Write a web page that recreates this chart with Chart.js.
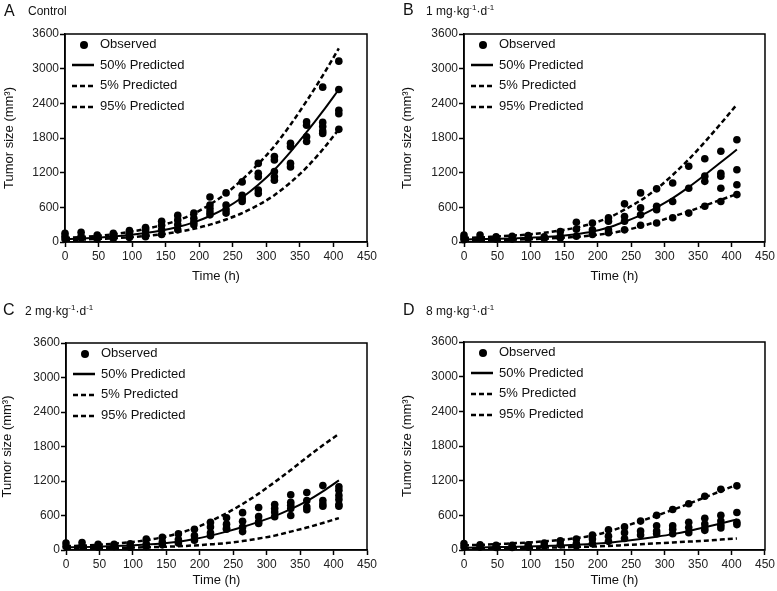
<!DOCTYPE html>
<html>
<head>
<meta charset="utf-8">
<script src="https://cdn.jsdelivr.net/npm/chart.js@4.4.0/dist/chart.umd.min.js"></script>
<style>
body { margin: 0; background: #fff; width: 777px; height: 591px; position: relative; overflow: hidden;
       font-family: "Liberation Sans", Arial, sans-serif; color: #111; }
.panel { position: absolute; }
.lab { position: absolute; white-space: nowrap; line-height: 1; }
.big { font-size: 16px; }
.sub { font-size: 12px; }
.sub sup { font-size: 8px; vertical-align: 5px; }
</style>
</head>
<body>
<div class="panel" style="left:0;top:0"><canvas id="chartA" width="390" height="295"></canvas></div>
<div class="panel" style="left:390px;top:0"><canvas id="chartB" width="387" height="295"></canvas></div>
<div class="panel" style="left:0;top:295px"><canvas id="chartC" width="390" height="296"></canvas></div>
<div class="panel" style="left:390px;top:295px"><canvas id="chartD" width="387" height="296"></canvas></div>

<div class="lab big" style="left:4px;top:3px">A</div>
<div class="lab sub" style="left:28px;top:5px">Control</div>
<div class="lab big" style="left:403px;top:2px">B</div>
<div class="lab sub" style="left:426px;top:4px">1 mg·kg<sup>-1</sup>·d<sup>-1</sup></div>
<div class="lab big" style="left:3px;top:302px">C</div>
<div class="lab sub" style="left:25px;top:304px">2 mg·kg<sup>-1</sup>·d<sup>-1</sup></div>
<div class="lab big" style="left:403px;top:302px">D</div>
<div class="lab sub" style="left:426px;top:304px">8 mg·kg<sup>-1</sup>·d<sup>-1</sup></div>

<script>
// sampling times (h)
var times = [0, 24, 48, 72, 96, 120, 144, 168, 192, 216, 240, 264, 288, 312, 336, 360, 384, 408];
var xTicks = [0, 450, 50];
var yTicks = [0, 3600, 600];

// Control
var obsA = [[150, 100, 50], [170, 100, 70], [120, 80, 50], [150, 95, 60], [200, 130, 80], [250, 200, 120, 90],
  [360, 290, 210, 130], [460, 380, 300, 210], [500, 410, 350, 300], [780, 640, 580, 520, 470], [850, 640, 560, 500],
  [1040, 810, 750, 700], [1360, 1190, 1130, 900, 840], [1480, 1420, 1220, 1130, 1070], [1710, 1650, 1360, 1300],
  [2080, 2020, 1820, 1740], [2680, 2070, 2000, 1920, 1880], [3130, 2640, 2280, 2220, 1950]];
var p50A = [50, 60, 75, 95, 120, 155, 200, 260, 340, 450, 590, 770, 990, 1250, 1560, 1900, 2260, 2640];
var p5A = [35, 42, 52, 65, 82, 105, 135, 175, 230, 300, 390, 500, 640, 810, 1030, 1290, 1600, 1950];
var p95A = [70, 85, 105, 135, 175, 225, 290, 375, 490, 650, 840, 1080, 1350, 1660, 2030, 2440, 2880, 3350];

// 1 mg/kg/d
var obsB = [[120, 80, 40], [120, 60], [90, 50], [100, 50], [110, 60], [90, 60], [180, 100, 70], [340, 220, 100],
  [330, 210, 130], [420, 360, 210, 160], [660, 440, 360, 210], [850, 590, 470, 290], [920, 620, 560, 330],
  [1020, 700, 420], [1310, 930, 500], [1440, 1140, 1050, 620], [1570, 1190, 1140, 930, 700], [1770, 1250, 990, 820]];
var p50B = [45, 50, 55, 62, 72, 85, 105, 135, 180, 250, 350, 460, 600, 760, 950, 1160, 1380, 1600];
var p5B = [30, 32, 35, 40, 48, 58, 72, 90, 115, 150, 200, 270, 350, 440, 530, 630, 730, 830];
var p95B = [70, 80, 95, 110, 130, 160, 200, 250, 320, 420, 560, 720, 920, 1160, 1430, 1730, 2050, 2380];

// 2 mg/kg/d
var obsC = [[120, 60], [130, 70], [100, 50], [100, 60], [110, 50], [190, 110, 60], [220, 140, 90], [280, 180, 120],
  [360, 250, 170], [480, 400, 300, 250], [560, 450, 380, 360], [650, 500, 400, 320], [740, 580, 490, 460],
  [790, 720, 660, 580], [960, 830, 780, 720, 600], [1000, 860, 750, 700], [1120, 860, 800, 760],
  [1100, 1040, 950, 880, 790, 760]];
var p50C = [45, 50, 58, 68, 80, 95, 115, 145, 190, 250, 320, 400, 490, 590, 710, 850, 1020, 1210];
var p5C = [30, 32, 35, 38, 42, 48, 55, 65, 80, 98, 120, 155, 200, 250, 320, 390, 470, 555];
var p95C = [65, 75, 90, 110, 135, 170, 220, 290, 380, 500, 640, 800, 980, 1180, 1390, 1610, 1820, 2020];

// 8 mg/kg/d
var obsD = [[110, 50], [90, 50], [80, 45], [80, 45], [90, 50], [120, 70], [160, 90], [190, 110, 70], [260, 190, 110],
  [350, 240, 150], [400, 300, 200], [500, 330, 260], [600, 420, 330, 280], [700, 420, 360, 280],
  [800, 480, 390, 300], [930, 550, 450, 380, 340], [1050, 600, 500, 430, 380], [1110, 650, 480, 440]];
var p50D = [40, 45, 50, 55, 60, 68, 78, 90, 105, 125, 155, 190, 230, 275, 330, 395, 460, 530];
var p5D = [30, 32, 34, 36, 38, 42, 46, 52, 60, 70, 85, 100, 115, 130, 145, 160, 180, 200];
var p95D = [80, 90, 100, 115, 130, 150, 175, 205, 250, 320, 410, 500, 595, 695, 800, 910, 1020, 1130];

var legendNames = ["Observed", "50% Predicted", "5% Predicted", "95% Predicted"];

Chart.defaults.font.family = '"Liberation Sans", Arial, sans-serif';
Chart.defaults.color = '#111';

function icon(kind) {
  var c = document.createElement('canvas');
  c.width = 22; c.height = 10;
  var g = c.getContext('2d');
  g.fillStyle = '#000'; g.strokeStyle = '#000';
  if (kind == 'dot') {
    g.beginPath(); g.arc(12, 5, 4, 0, Math.PI * 2); g.fill();
  } else {
    g.lineWidth = 2.5;
    if (kind == 'dash') g.setLineDash([5, 3]);
    g.beginPath(); g.moveTo(0, 5); g.lineTo(22, 5); g.stroke();
  }
  return c;
}
var icons = [icon('dot'), icon('solid'), icon('dash'), icon('dash')];

function pts(vals) {
  return times.map(function(t, i) { return {x: t, y: vals[i]}; });
}
function obsPts(obs) {
  var out = [];
  obs.forEach(function(arr, i) {
    arr.forEach(function(v) { out.push({x: times[i], y: v}); });
  });
  return out;
}

// box round the plot + legend in the top left corner of it
var frame = {
  id: 'frame',
  afterDraw: function(chart) {
    var a = chart.chartArea, ctx = chart.ctx;
    ctx.save();
    ctx.strokeStyle = '#000';
    ctx.lineWidth = 1.5;
    ctx.strokeRect(a.left, a.top, a.right - a.left, a.bottom - a.top);
    ctx.font = '13px "Liberation Sans", Arial, sans-serif';
    ctx.fillStyle = '#111';
    ctx.textBaseline = 'middle';
    chart.data.datasets.forEach(function(ds, i) {
      var y = a.top + 10.5 + i * 20.7;
      ctx.drawImage(icons[i], a.left + 7, Math.round(y - 5));
      ctx.fillText(ds.label, a.left + 35, y);
    });
    ctx.restore();
  }
};

function makePanel(id, obs, p50, p5, p95, lay) {
  var lineBase = {showLine: true, pointRadius: 0, pointHoverRadius: 0, borderColor: '#000',
    cubicInterpolationMode: 'monotone', fill: false};
  new Chart(document.getElementById(id), {
    type: 'line',
    data: {
      datasets: [
        {label: legendNames[0], data: obsPts(obs), showLine: false, pointRadius: 3.8, pointHoverRadius: 3.8,
         pointBackgroundColor: '#000', pointBorderWidth: 0, clip: false},
        Object.assign({label: legendNames[1], data: pts(p50), borderWidth: 2}, lineBase),
        Object.assign({label: legendNames[2], data: pts(p5), borderWidth: 2.5, borderDash: [5, 3]}, lineBase),
        Object.assign({label: legendNames[3], data: pts(p95), borderWidth: 2.5, borderDash: [5, 3]}, lineBase)
      ]
    },
    options: {
      responsive: false,
      animation: false,
      layout: {padding: {left: 0, top: lay.top, right: lay.right, bottom: 0}},
      plugins: {
        tooltip: {enabled: false},
        legend: {display: false}
      },
      scales: {
        x: {
          type: 'linear', min: xTicks[0], max: xTicks[1],
          ticks: {stepSize: xTicks[2], font: {size: 12}, color: '#222', padding: 2, maxRotation: 0,
                  callback: function(v) { return String(v); }},
          grid: {drawOnChartArea: false, drawTicks: true, tickLength: 5, tickWidth: 1.5, color: '#000'},
          border: {display: true, color: '#000', width: 1.5},
          title: {display: true, text: 'Time (h)', font: {size: 13}, color: '#111', padding: {top: 0, bottom: lay.xt}},
          afterFit: function(s) { s.height = lay.xh; }
        },
        y: {
          min: yTicks[0], max: yTicks[1],
          ticks: {stepSize: yTicks[2], font: {size: 12}, color: '#222', padding: 1,
                  callback: function(v) { return String(v); }},
          grid: {drawOnChartArea: false, drawTicks: true, tickLength: 5, tickWidth: 1.5, color: '#000'},
          border: {display: true, color: '#000', width: 1.5},
          title: {display: true, text: 'Tumor size (mm³)', font: {size: 13}, color: '#111', padding: {top: lay.yt, bottom: 0}},
          afterFit: function(s) { s.width = lay.yw; }
        }
      }
    },
    plugins: [frame]
  });
}

makePanel('chartA', obsA, p50A, p5A, p95A, {top: 34, right: 23, xh: 53, xt: 11, yw: 65, yt: 1.5});
makePanel('chartB', obsB, p50B, p5B, p95B, {top: 34, right: 11, xh: 53, xt: 11, yw: 74, yt: 9.5});
makePanel('chartC', obsC, p50C, p5C, p95C, {top: 48, right: 23, xh: 41, xt: 3, yw: 66, yt: 0});
makePanel('chartD', obsD, p50D, p5D, p95D, {top: 47, right: 11, xh: 41, xt: 3, yw: 74, yt: 9.5});
</script>
</body>
</html>
